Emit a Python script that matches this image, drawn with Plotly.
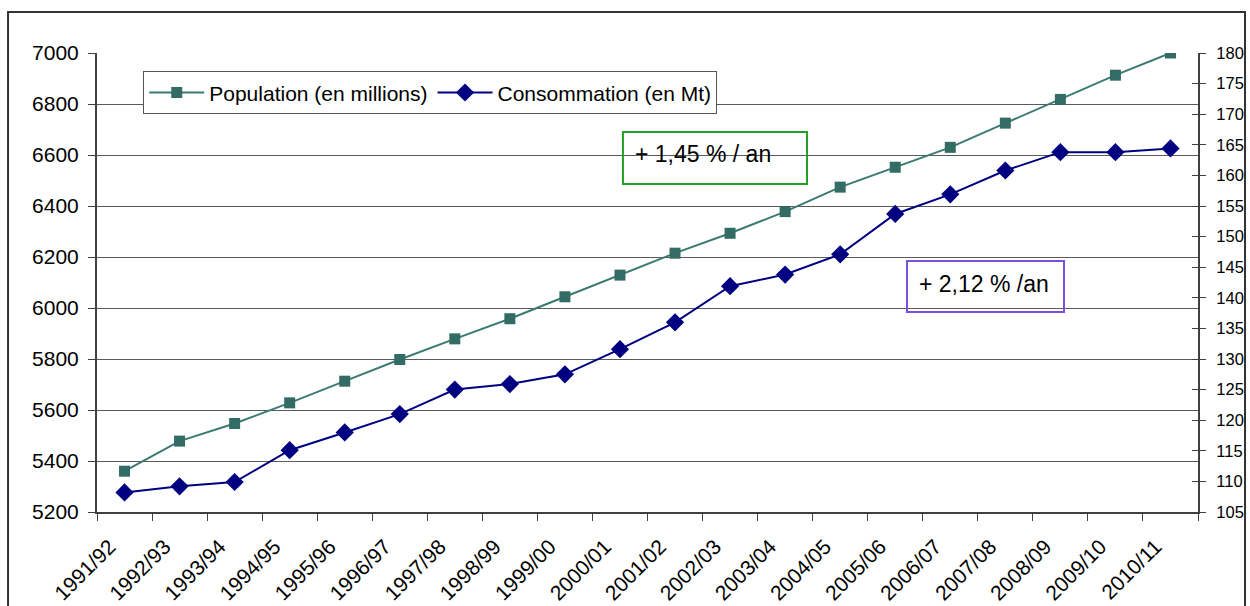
import plotly.graph_objects as go

campagnes = ["1991/92", "1992/93", "1993/94", "1994/95", "1995/96", "1996/97",
             "1997/98", "1998/99", "1999/00", "2000/01", "2001/02", "2002/03",
             "2003/04", "2004/05", "2005/06", "2006/07", "2007/08", "2008/09",
             "2009/10", "2010/11"]

population = [5360, 5478, 5547, 5628, 5713, 5798, 5879, 5958, 6044, 6129,
              6215, 6293, 6378, 6474, 6552, 6630, 6725, 6818, 6913, 7000]

consommation = [108.2, 109.2, 109.9, 115.1, 118.0, 121.0, 125.0, 125.9, 127.5, 131.6,
                136.0, 141.9, 143.8, 147.1, 153.7, 156.9, 160.8, 163.8, 163.8, 164.4]

left_ticks = list(range(5200, 7001, 200))
right_ticks = list(range(105, 181, 5))

FONT = "Liberation Sans, Arial, sans-serif"
NARROW = "Liberation Sans Narrow, Liberation Sans, Arial, sans-serif"
GRID = "#5a5a5a"
AXIS = "#404040"

fig = go.Figure()

fig.add_trace(go.Scatter(
    x=campagnes, y=population, name="Population (en millions)",
    mode="lines+markers",
    line=dict(color="#3a7a72", width=2),
    marker=dict(symbol="square", size=11, color="#336b65"),
    yaxis="y",
))

fig.add_trace(go.Scatter(
    x=campagnes, y=consommation, name="Consommation (en Mt)",
    mode="lines+markers",
    line=dict(color="#000080", width=2),
    marker=dict(symbol="diamond", size=14, color="#000080"),
    yaxis="y2",
))

# empty companion of the right axis, only to draw its inner tick marks
fig.add_trace(go.Scatter(
    x=campagnes, y=[None] * len(campagnes), yaxis="y3",
    showlegend=False, hoverinfo="skip", mode="lines",
))

# outer chart frame
fig.add_shape(type="rect", xref="paper", yref="paper",
              x0=-0.0808, x1=1.0427, y0=-0.30, y1=1.0893,
              line=dict(color="#333333", width=2), fillcolor="rgba(0,0,0,0)",
              layer="below")

# growth-rate boxes
fig.add_shape(type="rect", xref="paper", yref="paper",
              x0=0.4777, x1=0.6449, y0=0.7146, y1=0.8279,
              line=dict(color="#22a022", width=2), fillcolor="rgba(0,0,0,0)")
fig.add_annotation(
    xref="paper", yref="paper", x=0.4868, y=0.780, xanchor="left", yanchor="middle",
    text="+ 1,45 % / an", showarrow=False,
    font=dict(family=FONT, size=23, color="#000000"),
)

fig.add_shape(type="rect", xref="paper", yref="paper",
              x0=0.7357, x1=0.8783, y0=0.4357, y1=0.5468,
              line=dict(color="#7a50e0", width=2), fillcolor="rgba(0,0,0,0)")
fig.add_annotation(
    xref="paper", yref="paper", x=0.7448, y=0.4967, xanchor="left", yanchor="middle",
    text="+ 2,12 % /an", showarrow=False,
    font=dict(family=FONT, size=23, color="#000000"),
)

fig.update_layout(
    width=1250, height=606,
    margin=dict(l=97, r=52, t=53, b=94, autoexpand=False),
    paper_bgcolor="white", plot_bgcolor="white",
    font=dict(family=FONT, color="#000000"),
    showlegend=True,
    legend=dict(
        orientation="h", x=0.042, y=0.96, xanchor="left", yanchor="top",
        bgcolor="white", bordercolor="#555555", borderwidth=1,
        font=dict(family=FONT, size=21), itemwidth=55, tracegroupgap=0,
    ),
    xaxis=dict(
        type="category", tickson="boundaries", ticks="outside", ticklen=7,
        tickcolor=AXIS, showline=True, linecolor=AXIS, linewidth=2,
        showgrid=False, tickangle=-45, automargin=False,
        tickfont=dict(family=FONT, size=21),
        ticklabelstandoff=12, ticklabelshift=-15,
        range=[-0.5, len(campagnes) - 0.5],
    ),
    yaxis=dict(
        range=[5200, 7000], tickvals=left_ticks, ticks="outside", ticklen=7,
        tickcolor=AXIS, showline=True, linecolor=AXIS, linewidth=2,
        showgrid=True, gridcolor=GRID, gridwidth=1.3, zeroline=False,
        automargin=False,
        tickfont=dict(family=FONT, size=21), ticklabelstandoff=5,
    ),
    yaxis2=dict(
        range=[105, 180], tickvals=right_ticks, overlaying="y", side="right",
        ticks="outside", ticklen=6, tickcolor=AXIS, showline=True,
        linecolor=AXIS, linewidth=2, showgrid=False, zeroline=False,
        automargin=False,
        tickfont=dict(family=NARROW, size=16.5), ticklabelstandoff=7,
    ),
    yaxis3=dict(
        range=[105, 180], tickvals=right_ticks, overlaying="y", side="right",
        anchor="x", ticks="inside", ticklen=6, tickcolor=AXIS, automargin=False,
        showticklabels=False, showline=False, showgrid=False, zeroline=False,
    ),
)

fig.write_html("out.html")
